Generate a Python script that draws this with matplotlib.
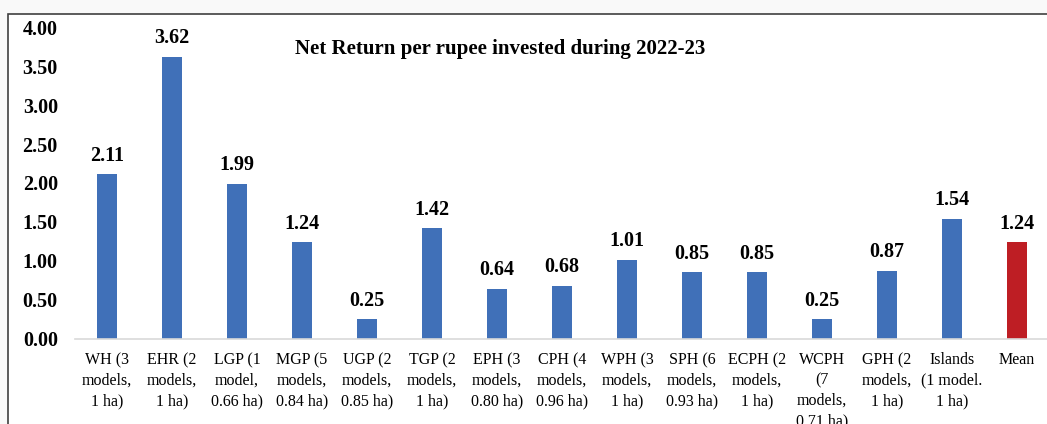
import numpy as np
import matplotlib
matplotlib.use('Agg')
import matplotlib.pyplot as plt
from matplotlib.patches import Rectangle

# categories (agro-climatic zones) and net return per rupee invested
zones = ['WH (3\nmodels,\n1 ha)', 'EHR (2\nmodels,\n1 ha)', 'LGP (1\nmodel,\n0.66 ha)',
         'MGP (5\nmodels,\n0.84 ha)', 'UGP (2\nmodels,\n0.85 ha)', 'TGP (2\nmodels,\n1 ha)',
         'EPH (3\nmodels,\n0.80 ha)', 'CPH (4\nmodels,\n0.96 ha)', 'WPH (3\nmodels,\n1 ha)',
         'SPH (6\nmodels,\n0.93 ha)', 'ECPH (2\nmodels,\n1 ha)', 'WCPH\n(7\nmodels,\n0.71 ha)',
         'GPH (2\nmodels,\n1 ha)', 'Islands\n(1 model.\n1 ha)', 'Mean']
retorno = [2.11, 3.62, 1.99, 1.24, 0.25, 1.42, 0.64, 0.68, 1.01, 0.85, 0.85, 0.25, 0.87, 1.54, 1.24]
yticks = [0, 0.5, 1, 1.5, 2, 2.5, 3, 3.5, 4]

azul = '#4070B8'
vermelho = '#BE1E24'
cores = [azul] * (len(zones) - 1) + [vermelho]

plt.rcParams['font.family'] = ['Liberation Serif', 'DejaVu Serif']

fig = plt.figure(figsize=(10.47, 4.24), dpi=100, facecolor='#f9f9f9')

# moldura do grafico (cortada a direita e embaixo, como na imagem)
fig.patches.append(Rectangle((7.5 / 1047, -0.2), 1.2, 0.2 + (424 - 14) / 424,
                             transform=fig.transFigure, facecolor='white',
                             edgecolor='#404040', linewidth=1.2, zorder=-10))

ax = fig.add_axes([74.5 / 1047, 85.5 / 424, 975 / 1047, 311 / 424])
ax.set_zorder(5)
ax.patch.set_alpha(0)

x = np.arange(len(zones))
ax.bar(x, retorno, width=0.32, color=cores, edgecolor='none')

for xi, v in zip(x, retorno):
    ax.text(xi, v + 0.11, f'{v:.2f}', ha='center', va='bottom',
            fontsize=14.5, fontweight='bold')

ax.set_xlim(-0.5, len(zones) - 0.5)
ax.set_ylim(0, 4)
ax.set_yticks(yticks)
ax.set_yticklabels([f'{t:.2f}' for t in yticks], fontsize=14.5, fontweight='bold')
ax.set_xticks(x)
ax.set_xticklabels(zones, fontsize=11.5, linespacing=1.36, va='top')
ax.tick_params(axis='both', length=0)
ax.tick_params(axis='y', pad=12)
ax.tick_params(axis='x', pad=10)

for s in ['top', 'right', 'left']:
    ax.spines[s].set_visible(False)
ax.spines['bottom'].set_color('#d9d9d9')
ax.spines['bottom'].set_linewidth(1.2)

fig.text(500 / 1047, 1 - 49 / 424, 'Net Return per rupee invested during 2022-23',
         ha='center', va='center', fontsize=15, fontweight='bold')

fig.savefig('out.png', dpi=100, facecolor=fig.get_facecolor())
